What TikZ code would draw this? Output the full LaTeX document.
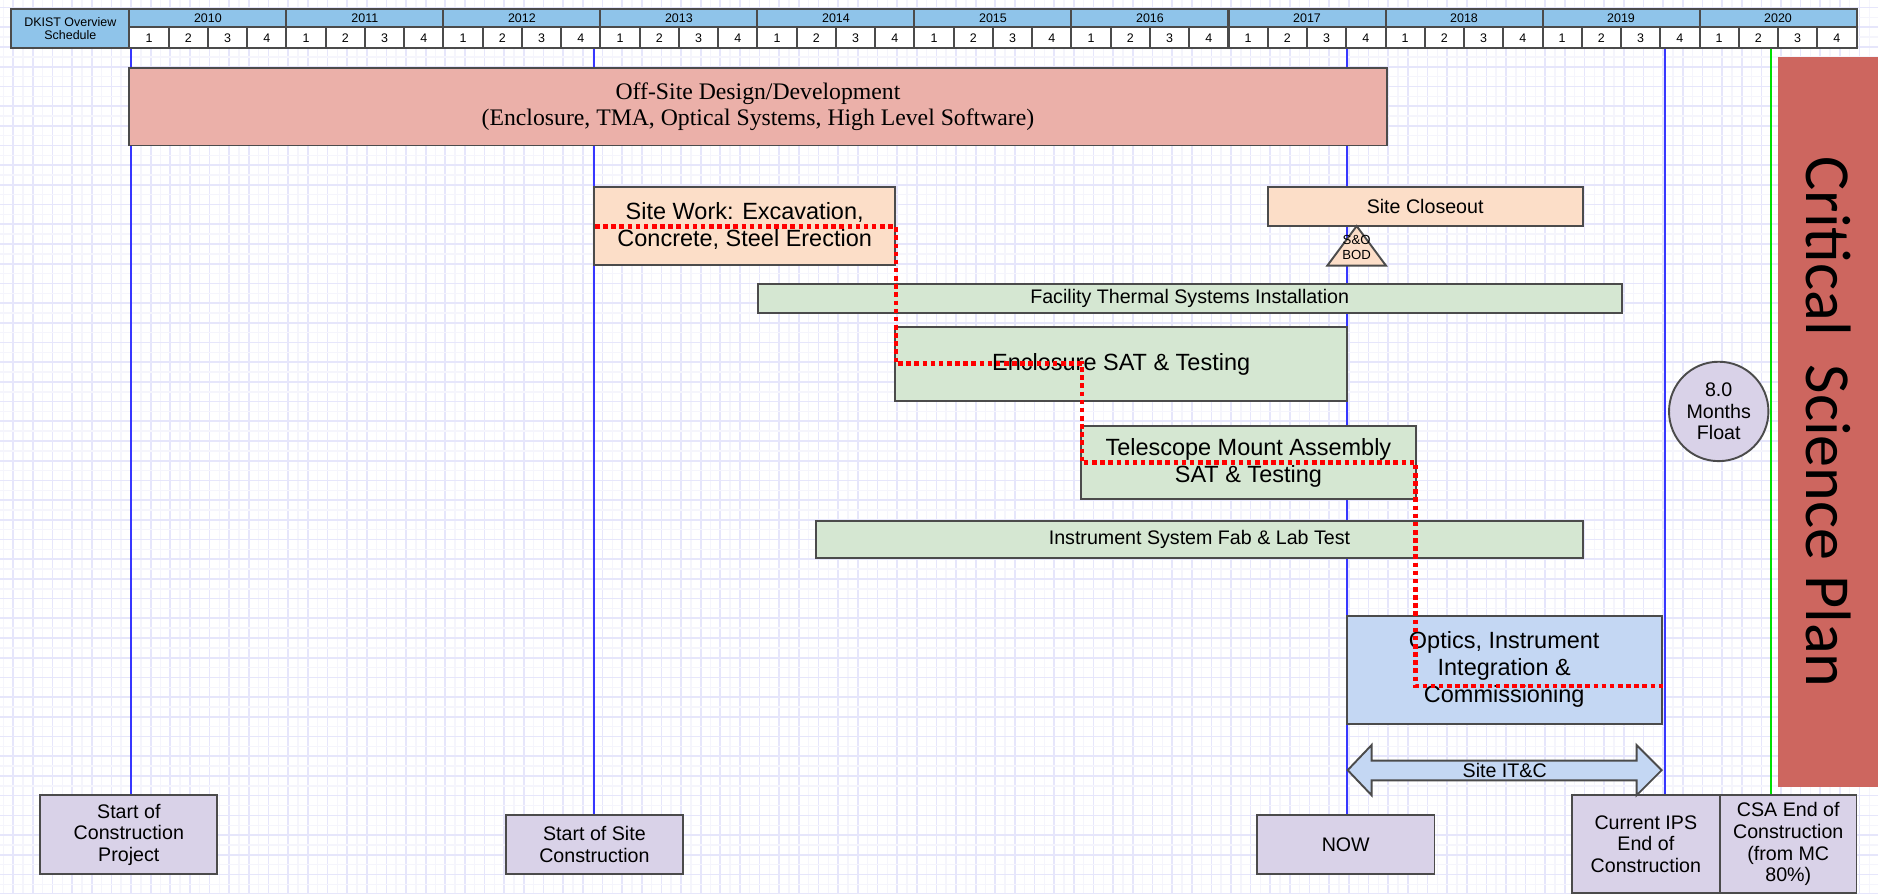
\documentclass[tikz,border=0pt]{standalone}
\usepackage{fontspec}
\setmainfont{Liberation Serif}
\setsansfont{Liberation Sans}
\newfontfamily\calib{Carlito}
\usetikzlibrary{calc}
\definecolor{gridmaj}{RGB}{230,230,251}
\definecolor{gridmin}{RGB}{245,245,252}
\definecolor{hdrblue}{RGB}{143,196,234}
\definecolor{edge}{RGB}{75,75,75}
\definecolor{salmon}{RGB}{235,176,169}
\definecolor{peach}{RGB}{252,222,200}
\definecolor{mint}{RGB}{213,231,210}
\definecolor{skyb}{RGB}{196,215,243}
\definecolor{lav}{RGB}{217,210,232}
\definecolor{brick}{RGB}{205,102,95}
\definecolor{vblue}{RGB}{55,55,255}
\definecolor{vgreen}{RGB}{0,225,0}
\tikzset{
  gmaj/.style={draw=gridmaj, line width=0.7pt},
  gmin/.style={draw=gridmin, line width=0.6pt},
  task/.style={draw=edge, line width=0.8pt, inner sep=0pt, align=center},
  bigsans/.style={font=\sffamily\fontsize{9.8}{11.3}\selectfont},
  smallsans/.style={font=\sffamily\fontsize{8.2}{9}\selectfont},
  hdr/.style={draw=edge, line width=0.85pt, inner sep=0pt, align=center, font=\sffamily\fontsize{5.2}{5.6}\selectfont},
  vline/.style={draw=vblue, line width=0.85pt},
  gline/.style={draw=vgreen, line width=0.85pt},
  crit/.style={draw=red, line width=1.9pt, dash pattern=on 1.9pt off 1.5pt},
}
\begin{document}
\begin{tikzpicture}[x=0.5pt, y=-0.5pt]
\useasboundingbox (0,0) rectangle (1568,746);
\fill[white] (0,0) rectangle (1568,746);
% grid
\foreach \k in {0,...,96}{
  \draw[gmin] ({2.8+16.4*\k},0) -- ({2.8+16.4*\k},746);
  \draw[gmaj] ({11+16.4*\k},0) -- ({11+16.4*\k},746);
}
\foreach \k in {0,...,46}{
  \draw[gmin] (0,{-1.9+16.45*\k}) -- (1568,{-1.9+16.45*\k});
  \draw[gmaj] (0,{6.3+16.45*\k}) -- (1568,{6.3+16.45*\k});
}

% milestone anchors (invisible placeholders for line ends)
\coordinate (startprojtop) at (107.55,663.8);
\coordinate (startsitetop) at (496.3,680.5);
\coordinate (nowtop) at (1123.6,680.5);
\coordinate (ipstop) at (1374.15,663.8);
\coordinate (csatop) at (1493.05,663.8);

% vertical time lines
\coordinate (t1) at (109,40.4);
\coordinate (t2) at (496.3,40.4);
\coordinate (t3) at (1125,40.4);
\coordinate (t4) at (1390.5,40.4);
\coordinate (t5) at (1478.6,40.4);
\draw[vline] (t1) -- (t1 |- startprojtop);
\draw[vline] (t2) -- (t2 |- startsitetop);
\draw[vline] (t3) -- (t3 |- nowtop);
\draw[vline] (t4) -- (t4 |- ipstop);
\draw[gline] (t5) -- (t5 |- csatop);

% bottom milestone boxes
\node[task, fill=lav, smallsans, minimum width=73.95pt, minimum height=33.1pt] (startproj) at (107.55,696.9) {Start of\\Construction\\Project};
\node[task, fill=lav, smallsans, minimum width=74pt, minimum height=24.75pt] (startsite) at (496.3,705.25) {Start of Site\\Construction};
\node[task, fill=lav, smallsans, minimum width=74.1pt, minimum height=24.75pt] (now) at (1123.6,705.25) {NOW};
\node[task, fill=lav, smallsans, minimum width=61.95pt, minimum height=41pt] (ips) at (1374.15,704.8) {Current IPS\\End of\\Construction};
\node[task, fill=lav, smallsans, minimum width=56.95pt, minimum height=41pt] (csa) at (1493.05,704.8) {CSA End of\\Construction\\(from MC\\80\%)};

% header
\node[hdr, fill=hdrblue, minimum width=49.25pt, minimum height=16.45pt] (title) at (58.75,23.95) {DKIST Overview\\Schedule};
\foreach \i in {0,...,10}{
  \pgfmathsetmacro{\xc}{108+131.1*\i+65.55}
  \pgfmathtruncatemacro{\yr}{2010+\i}
  \node[hdr, fill=hdrblue, minimum width=65.55pt, minimum height=7.65pt] (yr\i) at (\xc,15.15) {\yr};
  \foreach \j in {1,...,4}{
    \pgfmathsetmacro{\xq}{108+131.1*\i+32.775*(\j-0.5)}
    \node[hdr, fill=white, minimum width=16.39pt, minimum height=8.8pt] (q\i-\j) at (\xq,31.6) {\j};
  }
}

% task bars
\node[task, fill=salmon, font=\rmfamily\fontsize{9.9}{11}\selectfont, minimum width=524.85pt, minimum height=32.5pt] (offsite) at (632.85,89) {Off-Site Design/Development\\(Enclosure, TMA, Optical Systems, High Level Software)};
\node[task, fill=peach, bigsans, minimum width=125.75pt, minimum height=32.7pt] (sitework) at (621.75,188.6) {Site Work: Excavation,\\Concrete, Steel Erection};
\node[task, fill=peach, smallsans, minimum width=131.5pt, minimum height=16.4pt] (closeout) at (1189.9,172.3) {Site Closeout};
\node[task, fill=mint, smallsans, minimum width=360.7pt, minimum height=12.25pt] (facility) at (993.3,249.35) {Facility Thermal Systems Installation};
\node[task, fill=mint, bigsans, minimum width=188.6pt, minimum height=30.6pt] (enclosure) at (936.1,303.9) {Enclosure SAT \& Testing};
\node[task, fill=mint, bigsans, minimum width=139.7pt, minimum height=30.6pt] (telescope) at (1042.3,386.3) {Telescope Mount Assembly\\SAT \& Testing};
\node[task, fill=mint, smallsans, minimum width=320pt, minimum height=15.5pt] (instrument) at (1001.45,450.5) {Instrument System Fab \& Lab Test};
\node[task, fill=skyb, bigsans, minimum width=131.5pt, minimum height=45.25pt] (optics) at (1255.9,559.25) {Optics, Instrument\\Integration \&\\Commissioning};

% S&O BOD triangle
\coordinate (tA) at (1132.7,188.7);
\coordinate (tB) at (1108.2,221.8);
\coordinate (tC) at (1157.2,221.8);
\draw[draw=edge, line width=0.8pt, fill=peach] (tA) -- (tB) -- (tC) -- cycle;
\node[align=center, inner sep=0pt, font=\sffamily\fontsize{5.5}{6.55}\selectfont] (sobod) at (1132.7,206.6) {S\&O\\BOD};

% critical science plan column
\node[fill=brick, inner sep=0pt, rotate=-90, minimum width=304.55pt, minimum height=41.6pt, font=\calib\fontsize{26.8}{30}\selectfont] (csp) at (1526.4,352.45) {Critical\hspace{0.45em}Science Plan};

% float circle
\node[circle, draw=edge, line width=0.8pt, fill=lav, minimum size=41.5pt, inner sep=0pt, align=center, smallsans] (float) at (1435,343.5) {8.0\\Months\\Float};

% Site IT&C double arrow
\coordinate (itcL) at (1125.2,643);
\coordinate (itcR) at (1387.4,643);
\draw[draw=edge, line width=0.8pt, fill=skyb] (itcL) -- ++(20,-21) -- ++(0,13) -- ++(221.2,0) -- ++(0,-13) -- (itcR) -- ++(-21,21) -- ++(0,-12.5) -- ++(-221.2,0) -- ++(0,12.5) -- cycle;
\node[smallsans, inner sep=0pt] (itc) at (1256.3,643) {Site IT\&C};

% critical path
\coordinate (c0) at (496.8,189.3);
\coordinate (c1) at (748,189.3);
\coordinate (c2) at (748,303.4);
\coordinate (c3) at (903.2,303.4);
\coordinate (c4) at (903.2,386.3);
\coordinate (c5) at (1182,386.3);
\coordinate (c6) at (1182,572.8);
\coordinate (c7) at (1390.7,572.8);
\draw[crit] (c0) -- (c1) -- (c2) -- (c3) -- (c4) -- (c5) -- (c6) -- (c7);
\end{tikzpicture}
\end{document}
